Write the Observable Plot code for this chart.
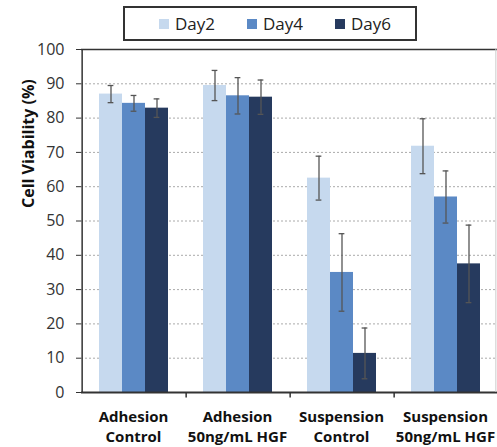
<!DOCTYPE html>
<html>
<head>
<meta charset="utf-8">
<script src="https://cdn.jsdelivr.net/npm/d3@7"></script>
<script src="https://cdn.jsdelivr.net/npm/@observablehq/plot@0.6"></script>
<style>
  body { margin: 0; background: #fff; font-family: "Open Sans", sans-serif; }
  #wrap { width: 497px; position: relative; }
  #legend { position: relative; height: 40px; }
  #legend .box { position: absolute; left: 123px; top: 6px; width: 290px; height: 31px;
    border: 2px solid #333; box-sizing: content-box; }
  #legend .item { position: absolute; top: 0; height: 31px; display: flex; align-items: center;
    font-size: 17px; color: #222; }
  #legend .sw { width: 10px; height: 10px; margin-right: 6px; }
  #chart svg { overflow: visible; }
</style>
</head>
<body>
<div id="wrap">
  <div id="legend"><div class="box"></div></div>
  <div id="chart"></div>
</div>
<script>
const groups = ["Adhesion\nControl", "Adhesion\n50ng/mL HGF", "Suspension\nControl", "Suspension\n50ng/mL HGF"];
const days = ["Day2", "Day4", "Day6"];
const colors = ["#c6d9ee", "#5b89c5", "#263a5e"];
const day2 = [87.0, 89.5, 62.5, 71.8];
const day4 = [84.3, 86.5, 35.0, 57.0];
const day6 = [82.9, 86.1, 11.4, 37.5];
const err2 = [2.5, 4.4, 6.4, 8.0];
const err4 = [2.3, 5.3, 11.3, 7.6];
const err6 = [2.7, 5.0, 7.4, 11.3];
const yTicks = [0, 10, 20, 30, 40, 50, 60, 70, 80, 90, 100];
const gridTicks = [10, 20, 30, 40, 50, 60, 70, 80, 90];

const vals = [day2, day4, day6];
const errs = [err2, err4, err6];
const rows = [];
groups.forEach((g, gi) => days.forEach((d, di) => {
  rows.push({group: g, day: d, value: vals[di][gi], lo: vals[di][gi] - errs[di][gi], hi: vals[di][gi] + errs[di][gi]});
}));

// legend
const box = document.querySelector("#legend .box");
const legendX = [34, 122, 210];
days.forEach((d, i) => {
  const it = document.createElement("div");
  it.className = "item";
  it.style.left = legendX[i] + "px";
  it.innerHTML = `<span class="sw" style="background:${colors[i]}"></span>${d}`;
  box.appendChild(it);
});

const width = 497, marginLeft = 80, marginRight = 0;
const facetW = (width - marginLeft - marginRight) / groups.length;
const po = 0.74;
const step = facetW / (days.length + 2 * po);
const firstCenter = po * step + step / 2;
const lastCenter = firstCenter + (days.length - 1) * step;

const chart = Plot.plot({
  width, height: 407,
  marginTop: 9, marginBottom: 55, marginLeft, marginRight,
  style: {fontFamily: "Open Sans, sans-serif", color: "#333", background: "white", overflow: "visible"},
  fx: {domain: groups, padding: 0, axis: null},
  x: {domain: days, paddingInner: 0, paddingOuter: po, axis: null},
  y: {domain: [0, 100], axis: null},
  color: {domain: days, range: colors},
  marks: [
    Plot.gridY(gridTicks, {stroke: "#aaa", strokeOpacity: 1, strokeDasharray: "2,2", strokeWidth: 1}),
    Plot.barY(rows, {fx: "group", x: "day", y: "value", fill: "day"}),
    Plot.ruleX(rows, {fx: "group", x: "day", y1: "lo", y2: "hi", stroke: "#555", strokeWidth: 1.3}),
    Plot.tickY(rows, {fx: "group", x: "day", y: "lo", stroke: "#555", strokeWidth: 1.3, insetLeft: (step - 6) / 2, insetRight: (step - 6) / 2}),
    Plot.tickY(rows, {fx: "group", x: "day", y: "hi", stroke: "#555", strokeWidth: 1.3, insetLeft: (step - 6) / 2, insetRight: (step - 6) / 2}),
    Plot.ruleY([100], {stroke: "#333", strokeWidth: 1.5}),
    Plot.ruleY([0], {stroke: "#333", strokeWidth: 2}),
    // left axis line
    Plot.ruleX([groups[0]], {fx: d => d, x: () => days[0], y1: 0, y2: 100, dx: -firstCenter, stroke: "#333", strokeWidth: 1.5}),
    // boundary ticks
    Plot.ruleX(groups.slice(1), {fx: d => d, x: () => days[0], y1: 0, y2: -1.6, dx: -firstCenter, stroke: "#333", strokeWidth: 1.5, clip: false}),
    // right light border
    Plot.ruleX([groups[3]], {fx: d => d, x: () => days[2], y1: 0, y2: 100, dx: facetW - lastCenter - 2, stroke: "#ccc", strokeWidth: 1}),
    Plot.axisY(yTicks, {anchor: "left", tickSize: 5, tickPadding: 12, fontSize: 16, label: null, stroke: "#333", fill: "#333"}),
    Plot.text([groups[0]], {fx: d => d, text: () => "Cell Viability (%)", frameAnchor: "left", rotate: -90, dx: -53, dy: -13, fontSize: 16, fontWeight: "bold", fill: "#111"}),
    Plot.text(groups, {fx: d => d, text: d => d, frameAnchor: "bottom", lineAnchor: "middle", dy: 33, lineHeight: 1.35, fontSize: 15, fontWeight: "bold", fill: "#111"})
  ]
});
document.getElementById("chart").appendChild(chart);
</script>
</body>
</html>
